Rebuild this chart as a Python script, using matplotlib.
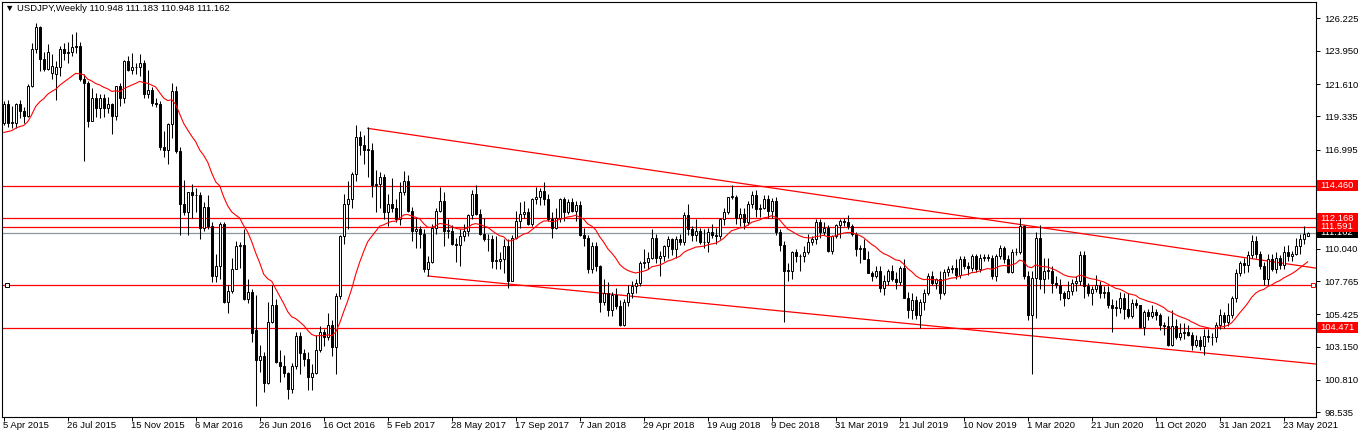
import numpy as np
import pandas as pd
import matplotlib
matplotlib.use("Agg")
import matplotlib.pyplot as plt
import matplotlib.transforms as mtransforms
from matplotlib.patches import Rectangle

# ---------------- data (weekly USDJPY, week starting 5 Apr 2015) ----------------
opens = [
118.9,120.2,118.9,118.9,120.2,119.7,119.4,121.5,124.1,125.6,
123.4,122.7,122.4,122.3,122.8,124.1,123.8,123.9,124.2,124.3,
122.0,121.7,119.0,120.6,119.9,120.6,119.9,120.2,119.4,121.5,
120.6,123.2,122.6,122.8,122.8,123.1,120.9,121.2,120.3,120.2,
117.2,117.0,118.8,121.1,116.9,113.2,112.6,114.0,113.8,113.8,
111.5,113.0,111.6,108.1,108.8,111.8,106.3,107.1,108.6,110.2,
110.3,106.5,107.0,104.3,102.2,102.5,100.6,104.9,106.1,102.1,
101.8,101.3,100.2,101.8,103.9,102.7,102.3,101.0,101.3,102.9,
104.2,103.8,104.7,103.1,106.7,110.9,113.2,113.5,115.3,117.9,
117.3,117.0,117.0,114.5,114.6,115.1,112.6,113.2,112.9,112.1,
114.0,114.8,112.7,111.3,111.4,111.1,108.6,109.1,111.5,112.7,
113.4,111.3,111.3,110.4,110.3,110.9,111.3,112.4,113.9,112.5,
111.1,110.7,110.7,109.2,109.2,109.3,110.2,107.8,110.8,112.0,
112.5,112.6,111.8,113.5,113.7,114.1,113.5,112.1,111.5,112.2,
113.5,112.6,113.3,112.7,113.1,111.0,110.8,108.6,110.2,108.8,
106.3,106.9,105.7,106.8,106.0,104.7,106.3,106.9,107.4,107.6,
109.0,109.1,109.4,110.8,109.4,109.5,110.2,110.7,110.0,110.7,
110.5,112.4,111.4,111.0,111.3,110.5,110.5,111.2,111.0,110.9,
112.1,112.6,113.7,113.7,112.2,112.5,111.9,113.2,113.8,112.8,
112.9,113.5,112.7,113.4,111.2,110.3,108.5,108.5,109.8,109.5,
109.5,109.8,110.5,110.7,111.9,111.2,111.5,109.9,110.9,111.7,
112.0,111.9,111.6,111.1,110.0,110.1,109.3,108.3,108.1,108.5,
107.3,107.8,108.5,107.9,107.7,108.7,106.6,105.7,106.4,105.4,
106.3,106.9,108.1,107.6,107.9,106.9,108.4,108.6,108.7,108.2,
109.3,108.8,108.7,109.5,108.6,109.4,109.4,109.4,108.1,109.5,
110.1,109.3,108.4,109.8,109.8,111.6,108.1,105.4,108.0,110.8,
107.9,108.5,108.5,107.6,107.5,106.9,106.6,107.1,107.6,107.8,
109.6,107.4,106.9,107.2,107.5,106.9,107.0,106.1,105.9,105.9,
106.6,105.8,105.3,106.2,106.1,104.55,105.6,105.3,105.6,105.4,
104.7,104.6,103.3,104.6,103.8,104.1,104.2,104.0,103.3,103.6,
103.2,103.9,103.8,103.8,104.7,105.4,104.9,105.4,106.6,108.3,
109.0,108.9,109.6,110.6,109.7,108.8,107.9,109.3,108.6,109.4,
108.9,109.8,109.5,109.7,110.2,110.75,110.948]

highs = [
120.4,120.5,120.1,120.3,120.5,120.0,121.6,124.5,125.9,125.7,
123.9,124.4,123.7,123.2,124.3,124.5,124.6,125.1,125.3,124.6,
122.3,121.8,121.3,121.0,120.9,120.9,120.7,120.3,121.5,121.7,
123.3,123.6,123.8,123.1,123.7,123.3,122.6,121.4,120.6,120.4,
118.3,118.9,121.7,121.5,117.2,114.9,114.0,114.6,114.3,114.0,
113.3,113.8,111.9,109.7,111.9,111.9,107.5,109.4,110.6,110.5,
111.4,107.9,107.2,106.8,103.3,102.8,106.3,107.5,106.5,102.9,
102.6,101.4,102.0,104.2,104.2,103.0,102.8,101.9,104.0,104.6,
104.4,105.5,105.0,106.9,111.0,113.9,114.8,115.4,118.7,118.3,
118.0,118.6,117.5,115.6,115.4,115.3,113.9,115.0,113.5,114.7,
115.5,115.2,113.0,112.2,111.6,111.4,109.5,111.8,112.9,114.4,
114.0,112.1,111.7,110.8,111.4,111.8,112.5,114.2,114.5,112.8,
112.2,111.1,111.0,110.95,109.8,110.7,110.7,111.0,112.7,113.3,
113.4,112.9,113.6,114.4,114.3,114.7,113.9,112.6,112.9,113.6,
113.7,113.5,113.6,113.4,113.4,111.5,111.0,110.5,110.5,108.9,
107.9,107.7,107.0,107.3,106.4,106.5,107.5,107.8,107.9,109.2,
110.0,109.8,111.4,111.1,109.9,110.3,110.9,110.8,110.9,111.1,
112.6,113.2,111.6,112.1,111.5,111.4,111.5,111.8,111.5,112.2,
112.9,113.7,114.5,113.8,112.9,112.9,113.4,114.1,114.2,113.2,
113.8,113.8,113.6,113.7,111.4,110.6,109.0,109.9,110.0,109.7,
110.2,111.1,110.9,112.1,112.1,111.9,111.7,111.0,111.8,112.1,
112.2,112.4,111.8,111.2,110.3,110.7,109.9,108.5,108.8,108.8,
108.2,108.6,108.9,108.4,108.8,109.3,107.0,106.9,106.7,106.5,
107.2,108.3,108.5,108.0,108.5,108.6,108.8,108.9,109.3,109.5,
109.5,109.1,109.7,109.7,109.7,109.7,109.7,109.6,109.7,110.3,
110.2,109.6,110.0,110.1,112.2,111.7,108.5,108.5,111.2,111.7,
109.4,109.4,108.8,108.1,107.9,107.1,107.8,107.9,108.1,109.9,
109.9,107.6,107.4,108.2,107.8,107.4,107.4,106.5,106.4,107.0,
106.9,106.9,106.5,106.5,106.1,105.7,105.8,106.1,105.8,105.5,
104.9,105.3,105.7,105.1,104.8,104.8,104.7,104.2,104.0,103.9,
104.4,104.4,104.1,104.9,105.8,105.6,106.2,106.7,108.6,109.2,
109.4,109.9,110.97,110.9,109.9,109.1,109.7,109.7,109.8,109.6,
110.2,110.3,109.9,110.8,111.1,111.65,111.183]

lows = [
118.7,118.6,118.5,118.5,119.2,118.9,119.3,121.4,123.8,122.5,
122.5,122.6,122.0,120.5,122.2,123.3,123.1,123.6,123.8,121.8,
116.2,118.6,119.0,119.3,119.2,119.3,119.6,118.1,119.1,120.1,
120.3,122.5,122.3,122.3,122.2,120.6,120.6,120.1,120.0,117.0,
116.5,116.0,117.8,116.8,111.0,112.4,111.0,112.2,112.6,110.7,
111.3,111.4,107.7,107.7,107.9,106.2,105.5,106.9,108.6,108.7,
106.4,106.2,103.5,99.0,101.4,100.0,100.5,104.8,102.0,100.7,
101.0,99.5,99.9,101.6,101.2,101.8,100.1,100.1,101.2,102.8,
103.2,103.6,102.5,101.2,106.5,110.4,111.4,112.9,114.8,116.6,
116.0,115.1,113.7,112.6,112.9,112.1,111.6,112.6,111.9,111.7,
113.8,112.6,110.6,110.1,110.1,108.4,108.1,109.0,111.1,112.6,
110.2,110.8,110.3,109.1,108.8,110.6,110.9,112.1,112.4,111.0,
110.6,109.9,108.7,108.6,108.6,108.3,107.3,107.8,110.7,111.5,
112.2,111.7,111.6,113.2,113.1,113.1,112.0,110.8,111.4,111.9,
112.0,112.5,112.6,112.0,110.9,110.2,108.3,108.3,108.5,105.6,
106.1,105.3,105.3,105.8,104.6,104.6,106.0,106.6,106.9,107.4,
108.7,108.6,109.3,109.0,108.1,109.2,109.4,109.6,109.4,110.3,
110.3,111.0,110.6,110.6,110.4,110.1,109.8,110.8,110.4,110.7,
111.7,112.5,113.5,111.8,111.6,111.4,111.7,112.9,112.3,112.3,
112.8,112.2,112.2,111.0,109.9,104.9,107.8,107.9,109.1,108.5,
109.1,109.7,110.3,110.4,110.8,111.0,109.8,109.7,110.8,110.8,
111.6,111.4,110.9,109.5,109.0,109.3,108.3,107.8,108.0,107.0,
106.8,107.5,107.8,107.2,107.5,106.6,105.2,105.1,105.1,104.5,
105.7,106.8,107.5,107.2,106.5,106.8,108.1,108.3,107.9,108.0,
108.6,108.2,108.5,108.4,108.4,109.2,109.2,107.9,107.8,109.3,
109.0,108.3,108.3,109.6,109.7,107.9,105.0,101.2,105.2,107.2,
106.9,107.9,106.9,107.3,106.4,106.0,106.5,106.8,107.1,107.5,
106.6,106.7,106.1,107.0,106.6,106.6,105.9,104.2,105.3,105.5,
105.1,105.2,105.2,105.9,104.5,104.0,105.0,105.2,105.0,104.3,
104.0,103.2,103.2,103.7,103.6,103.7,103.9,102.9,103.1,102.9,
102.6,103.5,103.3,103.5,104.4,104.5,104.6,105.2,106.3,108.1,
108.3,108.4,109.4,109.4,108.6,107.5,107.5,108.5,108.3,108.6,
108.6,109.2,109.2,109.6,109.7,110.4,110.948]

closes = [
120.2,118.9,118.9,120.2,119.7,119.4,121.5,124.1,125.6,123.4,
122.7,123.9,122.9,122.8,124.1,123.8,123.9,124.2,124.3,122.0,
121.7,119.0,120.6,119.9,120.6,119.9,120.2,119.4,121.5,120.6,
123.2,122.6,122.8,122.8,123.1,120.9,121.2,120.3,120.2,117.2,
117.0,118.8,121.1,116.9,113.2,112.6,114.0,113.8,113.8,111.5,
113.0,111.6,108.1,108.8,111.8,106.3,107.1,108.6,110.2,110.3,
106.5,107.0,104.1,102.2,102.5,100.6,104.9,106.1,102.1,101.8,
101.3,100.2,101.8,103.9,102.7,102.3,101.0,101.3,102.9,104.2,
103.8,104.7,103.1,106.7,110.9,113.2,113.5,115.3,117.9,117.3,
117.0,117.0,114.5,114.6,115.1,112.6,113.2,112.9,112.1,114.0,
114.8,112.7,111.3,111.4,111.1,108.6,109.1,111.5,112.7,113.4,
111.3,111.3,110.4,110.3,110.9,111.3,112.4,113.9,112.5,111.1,
110.7,110.7,109.2,109.2,109.3,110.2,107.8,110.8,112.0,112.5,
112.6,111.8,113.5,113.7,114.1,113.5,112.1,111.5,112.2,113.5,
112.6,113.3,112.7,113.1,111.0,110.8,108.6,110.2,108.8,106.3,
106.9,105.7,106.8,106.0,104.7,106.3,106.9,107.4,107.6,109.0,
109.1,109.4,110.8,109.4,109.5,110.2,110.7,110.0,110.7,110.5,
112.4,111.4,111.0,111.3,110.5,110.5,111.2,111.0,110.9,112.1,
112.6,113.7,113.7,112.2,112.5,111.9,113.2,113.8,112.8,112.9,
113.5,112.7,113.4,111.2,110.3,108.5,108.5,109.8,109.5,109.5,
109.8,110.5,110.7,111.9,111.2,111.5,109.9,110.9,111.7,112.0,
111.9,111.6,111.1,110.0,110.1,109.3,108.3,108.1,108.5,107.3,
107.8,108.5,107.9,107.7,108.7,106.6,105.7,106.4,105.4,106.3,
106.9,108.1,107.6,107.9,106.9,108.4,108.6,108.7,108.2,109.3,
108.8,108.7,109.5,108.6,109.4,109.4,109.4,108.1,109.5,110.1,
109.3,108.4,109.8,109.8,111.6,108.1,105.4,108.0,110.8,107.9,
108.5,108.5,107.6,107.5,106.9,106.6,107.1,107.6,107.8,109.6,
107.4,106.9,107.2,107.5,106.9,107.0,106.1,105.9,105.9,106.6,
105.8,105.3,106.2,106.1,104.55,105.6,105.3,105.6,105.4,104.7,
104.6,103.3,104.6,103.8,104.1,104.2,104.0,103.3,103.6,103.2,
103.9,103.8,103.8,104.7,105.4,104.9,105.4,106.6,108.3,109.0,
108.9,109.6,110.6,109.7,108.8,107.9,109.3,108.6,109.4,108.9,
109.8,109.5,109.7,110.2,110.75,111.05,111.162]

ma_period = 20
ma_seed = 118.0          # value of the moving average just before the first bar

date_ticks = ["5 Apr 2015", "26 Jul 2015", "15 Nov 2015", "6 Mar 2016", "26 Jun 2016",
              "16 Oct 2016", "5 Feb 2017", "28 May 2017", "17 Sep 2017", "7 Jan 2018",
              "29 Apr 2018", "19 Aug 2018", "9 Dec 2018", "31 Mar 2019", "21 Jul 2019",
              "10 Nov 2019", "1 Mar 2020", "21 Jun 2020", "11 Oct 2020", "31 Jan 2021",
              "23 May 2021"]
date_tick_bars = list(range(0, 16 * len(date_ticks), 16))

price_ticks = [126.225, 123.950, 121.610, 119.335, 116.995, 110.040, 107.765,
               105.425, 103.150, 100.810, 98.535]

red_levels = [114.460, 112.168, 111.591, 104.471]
box_level = 107.47
bid_level = 111.162

# price labels on the right axis: (level, text, colour), in drawing order
price_labels = [(114.460, "114.460", "#ff0000"),
                (104.471, "104.471", "#ff0000"),
                (112.168, "112.168", "#ff0000"),
                (111.162, "111.162", "black"),
                (111.591, "111.591", "#ff0000")]

upper_tl_bars = [91, 326]
upper_tl_prices = [118.50, 108.76]
lower_tl_bars = [106, 326]
lower_tl_prices = [108.12, 101.99]

title = "\u25bc USDJPY,Weekly 110.948 111.183 110.948 111.162"

# ---------------- figure ----------------
W, H = 1362, 437
fig = plt.figure(figsize=(W / 100, H / 100), dpi=100)
fig.patch.set_facecolor("white")
left_px, right_px, top_px, bot_px = 2.0, 1315.7, 2.0, 416.7
ax_w_px = right_px - left_px
ax_h_px = bot_px - top_px
ax = fig.add_axes([left_px / W, 1 - bot_px / H, ax_w_px / W, ax_h_px / H])
ax.set_facecolor("white")

o = np.array(opens); h = np.array(highs); l = np.array(lows); c = np.array(closes)
n = len(c)
x = np.arange(n)

xmin, xmax = -0.425, 328.0
ymin, ymax = 98.23, 127.38
ax.set_xlim(xmin, xmax)
ax.set_ylim(ymin, ymax)
per_px = (ymax - ymin) / ax_h_px

# horizontal levels
for lv in red_levels:
    ax.axhline(lv, color="#ff0000", lw=0.9, zorder=1)
ax.axhline(bid_level, color="#8c96a0", lw=0.9, zorder=1)
ax.plot([xmin + 0.3, xmax - 0.3], [box_level, box_level], color="#ff0000", lw=0.9, zorder=1)
ax.plot([xmin + 1.2], [box_level], marker="s", ms=3.2, mfc="white", mec="black", mew=0.7, zorder=5, clip_on=False)
ax.plot([xmax - 0.6], [box_level], marker="s", ms=3.2, mfc="white", mec="#ff0000", mew=0.7, zorder=5, clip_on=False)

# trend lines (rays extended to the right edge)
for bars, prices in ((upper_tl_bars, upper_tl_prices), (lower_tl_bars, lower_tl_prices)):
    slope = (prices[1] - prices[0]) / (bars[1] - bars[0])
    x_end = xmax
    y_end = prices[0] + slope * (x_end - bars[0])
    ax.plot([bars[0], x_end], [prices[0], y_end], color="#ff0000", lw=0.9, zorder=2)

# candles
ax.vlines(x, l, h, color="black", lw=0.75, zorder=3)
up = c >= o
bottom = np.minimum(o, c)
height = np.maximum(np.abs(c - o), 0.03)
bw = 0.6
ax.bar(x[up], height[up], bw, bottom[up], facecolor="white", edgecolor="black", lw=0.7, zorder=4)
ax.bar(x[~up], height[~up], bw, bottom[~up], facecolor="black", edgecolor="black", lw=0.7, zorder=4)

# moving average (exponential, period 20)
ema = pd.Series([ma_seed] + closes).ewm(span=ma_period, adjust=False).mean().values[1:]
ax.plot(x, ema, color="#ff0000", lw=0.8, zorder=5)

# axes styling
for s in ax.spines.values():
    s.set_color("black")
    s.set_linewidth(0.8)
ax.yaxis.tick_right()
ax.set_yticks(price_ticks)
ax.set_yticklabels([f"{p:.3f}" for p in price_ticks])
ax.tick_params(axis="y", which="both", direction="out", length=3, width=0.7, pad=3,
               labelsize=6.8, colors="black")
for t in ax.get_yticklabels():
    t.set_family("Liberation Sans")

ax.set_xticks(date_tick_bars)
ax.set_xticklabels([])
ax.tick_params(axis="x", direction="out", length=3, width=0.7)
date_off = ax.transData + mtransforms.ScaledTranslation(0, -4 / 100, fig.dpi_scale_trans)
for b, lab in zip(date_tick_bars, date_ticks):
    ax.text(b - 0.1, ymin, lab, transform=date_off, ha="left", va="top",
            fontsize=6.8, family="Liberation Sans", color="black", clip_on=False)

# price label boxes
trans = mtransforms.blended_transform_factory(ax.transAxes, ax.transData)
box_x0 = 1.0 + 1.0 / ax_w_px
box_w = 41.0 / ax_w_px
box_h = 11.0 * per_px
for z, (lv, txt, fc) in enumerate(price_labels):
    ax.add_patch(Rectangle((box_x0, lv - box_h / 2), box_w, box_h, transform=trans,
                           facecolor=fc, edgecolor="none", clip_on=False, zorder=10 + 2 * z))
    ax.text(box_x0 + 4.0 / ax_w_px, lv, txt, transform=trans, ha="left", va="center",
            fontsize=6.8, family="Liberation Sans", color="white", clip_on=False,
            zorder=11 + 2 * z)

# title
fig.text(5 / W, 1 - 8.5 / H, title, ha="left", va="center", fontsize=6.8,
         family=["Liberation Sans", "DejaVu Sans"], color="black")

fig.savefig("out.png", dpi=100, facecolor="white")
